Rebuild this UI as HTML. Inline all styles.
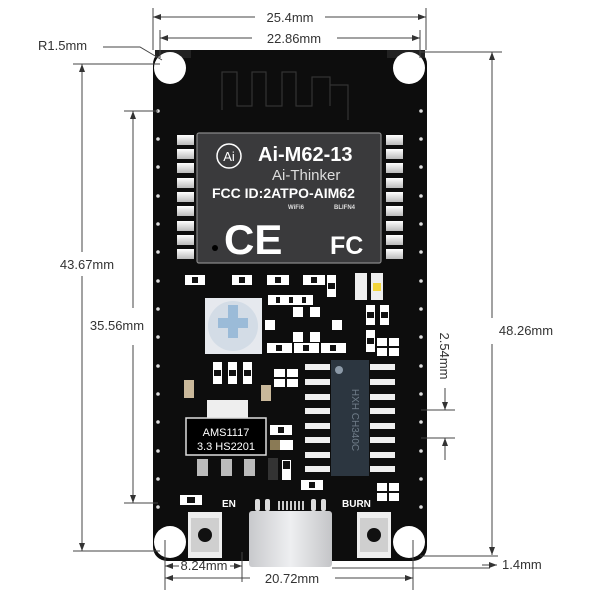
<!DOCTYPE html>
<html><head><meta charset="utf-8"><style>
html,body{margin:0;padding:0;background:#fff;}
svg{display:block;}
text{font-family:"Liberation Sans",sans-serif;}
</style></head><body>
<svg width="600" height="600" viewBox="0 0 600 600" xmlns="http://www.w3.org/2000/svg">
<defs>
<marker id="a" markerWidth="8" markerHeight="6" refX="8" refY="3" orient="auto-start-reverse"><path d="M0,0 L8,3 L0,6 z" fill="#333"/></marker>
<linearGradient id="usb" x1="0" x2="1"><stop offset="0" stop-color="#c8c9cc"/><stop offset="0.5" stop-color="#eeeff1"/><stop offset="1" stop-color="#c4c5c8"/></linearGradient>
<linearGradient id="pad" x1="0" y1="0" x2="0" y2="1"><stop offset="0" stop-color="#fff"/><stop offset="1" stop-color="#bbb"/></linearGradient>
</defs>

<rect x="153" y="50" width="274" height="511" rx="14" fill="#0d0d0d"/>
<rect x="155" y="50" width="36" height="8" fill="#222"/>
<rect x="387" y="50" width="38" height="8" fill="#222"/>

<circle cx="170" cy="68" r="16" fill="#fff"/>
<circle cx="409" cy="68" r="16" fill="#fff"/>
<circle cx="170" cy="542" r="16" fill="#fff"/>
<circle cx="409" cy="542" r="16" fill="#fff"/>

<g fill="#ddd">
<circle cx="158" cy="111" r="1.8"/><circle cx="158" cy="139" r="1.8"/><circle cx="158" cy="167" r="1.8"/><circle cx="158" cy="196" r="1.8"/><circle cx="158" cy="224" r="1.8"/><circle cx="158" cy="252" r="1.8"/><circle cx="158" cy="281" r="1.8"/><circle cx="158" cy="309" r="1.8"/><circle cx="158" cy="337" r="1.8"/><circle cx="158" cy="366" r="1.8"/><circle cx="158" cy="394" r="1.8"/><circle cx="158" cy="422" r="1.8"/><circle cx="158" cy="451" r="1.8"/><circle cx="158" cy="479" r="1.8"/><circle cx="158" cy="507" r="1.8"/>
<circle cx="421" cy="111" r="1.8"/><circle cx="421" cy="139" r="1.8"/><circle cx="421" cy="167" r="1.8"/><circle cx="421" cy="196" r="1.8"/><circle cx="421" cy="224" r="1.8"/><circle cx="421" cy="252" r="1.8"/><circle cx="421" cy="281" r="1.8"/><circle cx="421" cy="309" r="1.8"/><circle cx="421" cy="337" r="1.8"/><circle cx="421" cy="366" r="1.8"/><circle cx="421" cy="394" r="1.8"/><circle cx="421" cy="422" r="1.8"/><circle cx="421" cy="451" r="1.8"/><circle cx="421" cy="479" r="1.8"/><circle cx="421" cy="507" r="1.8"/>
</g>

<path d="M222,110 V72 H237 V106 H252 V72 H266 V106 H282 V72 H296 V106 H312 V77 H330 V106 M330,85 H348 V120" fill="none" stroke="#333" stroke-width="1.2"/>

<g fill="url(#pad)">
<rect x="177" y="135" width="17" height="10"/><rect x="177" y="163" width="17" height="10"/><rect x="177" y="178" width="17" height="10"/><rect x="177" y="192" width="17" height="10"/><rect x="177" y="206" width="17" height="10"/><rect x="177" y="221" width="17" height="10"/><rect x="177" y="235" width="17" height="10"/><rect x="177" y="249" width="17" height="10"/><rect x="177" y="149" width="17" height="10"/>
<rect x="386" y="135" width="17" height="10"/><rect x="386" y="149" width="17" height="10"/><rect x="386" y="163" width="17" height="10"/><rect x="386" y="178" width="17" height="10"/><rect x="386" y="192" width="17" height="10"/><rect x="386" y="206" width="17" height="10"/><rect x="386" y="221" width="17" height="10"/><rect x="386" y="235" width="17" height="10"/><rect x="386" y="249" width="17" height="10"/>
</g>
<rect x="197" y="133" width="184" height="130" rx="2" fill="#3a3a3c" stroke="#888" stroke-width="1.2"/>
<circle cx="229" cy="156" r="12" fill="none" stroke="#fff" stroke-width="1.5"/>
<text x="229" y="161" font-size="13" fill="#fff" text-anchor="middle" font-family="Liberation Serif,serif">Ai</text>
<text x="258" y="161" font-size="20" font-weight="bold" fill="#fff">Ai-M62-13</text>
<text x="272" y="180" font-size="15" fill="#ddd">Ai-Thinker</text>
<text x="212" y="198" font-size="14" font-weight="bold" fill="#fff">FCC ID:2ATPO-AIM62</text>
<text x="288" y="209" font-size="6" font-weight="bold" fill="#ddd">WiFi6</text>
<text x="334" y="209" font-size="6" font-weight="bold" fill="#ddd">BLIFN4</text>
<text x="224" y="254" font-size="42" font-weight="bold" fill="#fff">CE</text>
<text x="330" y="254" font-size="25" font-weight="bold" fill="#fff">FC</text>
<circle cx="215" cy="248" r="3" fill="#000"/>

<g fill="#fff">
<rect x="185" y="275" width="20" height="10"/><rect x="232" y="275" width="20" height="10"/><rect x="267" y="275" width="22" height="10"/><rect x="303" y="275" width="22" height="10"/><rect x="327" y="275" width="9" height="22"/>
<rect x="268" y="295" width="45" height="10"/>
<rect x="265" y="320" width="10" height="10"/><rect x="293" y="307" width="10" height="10"/><rect x="310" y="307" width="10" height="10"/><rect x="332" y="320" width="10" height="10"/><rect x="293" y="332" width="10" height="10"/><rect x="310" y="332" width="10" height="10"/>
<rect x="267" y="343" width="25" height="10"/><rect x="294" y="343" width="25" height="10"/><rect x="321" y="343" width="25" height="10"/>
<rect x="366" y="305" width="9" height="20"/><rect x="380" y="305" width="9" height="20"/><rect x="366" y="330" width="9" height="22"/><rect x="377" y="338" width="22" height="18"/>
<rect x="213" y="362" width="9" height="22"/><rect x="228" y="362" width="9" height="22"/><rect x="243" y="362" width="9" height="22"/>
<rect x="274" y="369" width="24" height="18"/>
<rect x="270" y="425" width="22" height="10"/><rect x="273" y="440" width="20" height="10"/>
<rect x="282" y="460" width="9" height="20"/>
<rect x="301" y="480" width="22" height="10"/>
<rect x="377" y="483" width="22" height="18"/>
<rect x="180" y="495" width="22" height="10"/>
</g>
<g fill="#111">
<rect x="192" y="277" width="6" height="6"/><rect x="239" y="277" width="6" height="6"/><rect x="275" y="277" width="6" height="6"/><rect x="311" y="277" width="6" height="6"/><rect x="328" y="283" width="7" height="6"/>
<rect x="276" y="297" width="4" height="6"/><rect x="289" y="297" width="4" height="6"/><rect x="302" y="297" width="4" height="6"/>
<rect x="276" y="345" width="6" height="6"/><rect x="303" y="345" width="6" height="6"/><rect x="330" y="345" width="6" height="6"/>
<rect x="367" y="312" width="7" height="6"/><rect x="381" y="312" width="7" height="6"/><rect x="367" y="338" width="7" height="6"/><rect x="377" y="346" width="22" height="2"/><rect x="387" y="338" width="2" height="18"/>
<rect x="214" y="370" width="7" height="6"/><rect x="229" y="370" width="7" height="6"/><rect x="244" y="370" width="7" height="6"/>
<rect x="274" y="377" width="24" height="2"/><rect x="285" y="369" width="2" height="18"/>
<rect x="278" y="427" width="6" height="6"/><rect x="283" y="461" width="7" height="8"/>
<rect x="309" y="482" width="6" height="6"/><rect x="377" y="491" width="22" height="2"/><rect x="387" y="483" width="2" height="18"/><rect x="187" y="497" width="8" height="6"/>
</g>
<rect x="355" y="273" width="12" height="27" fill="#eee"/>
<rect x="371" y="273" width="12" height="27" fill="#eee"/>
<rect x="373" y="283" width="8" height="8" fill="#f2d43a"/>
<rect x="184" y="380" width="10" height="18" fill="#c9b89a"/>
<rect x="261" y="385" width="10" height="16" fill="#c9b89a"/>
<rect x="270" y="440" width="10" height="10" fill="#8a7a55"/>
<rect x="268" y="458" width="10" height="22" fill="#333"/>

<rect x="205" y="298" width="57" height="56" fill="#e6e9ee"/>
<circle cx="233" cy="326" r="25" fill="#d3dce6"/>
<path d="M228,305 h10 v13 h10 v10 h-10 v10 h-10 v-10 h-10 v-10 h10z" fill="#9bbbd8"/>

<rect x="207" y="400" width="41" height="20" fill="#eee"/>
<rect x="186" y="418" width="80" height="37" fill="#000" stroke="#ddd" stroke-width="1.5"/>
<text x="226" y="436" font-size="11" fill="#fff" text-anchor="middle" font-family="Liberation Serif,serif">AMS1117</text>
<text x="226" y="450" font-size="11" fill="#fff" text-anchor="middle" font-family="Liberation Serif,serif">3.3  HS2201</text>
<rect x="197" y="459" width="11" height="17" fill="#bbb"/><rect x="221" y="459" width="11" height="17" fill="#bbb"/><rect x="244" y="459" width="11" height="17" fill="#bbb"/>

<g fill="#eee">
<rect x="305" y="364" width="25" height="6"/><rect x="305" y="379" width="25" height="6"/><rect x="305" y="394" width="25" height="6"/><rect x="305" y="408" width="25" height="6"/><rect x="305" y="423" width="25" height="6"/><rect x="305" y="437" width="25" height="6"/><rect x="305" y="452" width="25" height="6"/><rect x="305" y="466" width="25" height="6"/>
<rect x="370" y="364" width="25" height="6"/><rect x="370" y="379" width="25" height="6"/><rect x="370" y="394" width="25" height="6"/><rect x="370" y="408" width="25" height="6"/><rect x="370" y="423" width="25" height="6"/><rect x="370" y="437" width="25" height="6"/><rect x="370" y="452" width="25" height="6"/><rect x="370" y="466" width="25" height="6"/>
</g>
<rect x="331" y="360" width="38" height="116" fill="#2c3640"/>
<circle cx="339" cy="370" r="4" fill="#8c9aa8"/>
<text x="352" y="420" font-size="10" fill="#6f7c88" transform="rotate(90 352 420)" text-anchor="middle">HXH CH340C</text>

<rect x="188" y="512" width="34" height="46" fill="#eee"/>
<rect x="191" y="518" width="28" height="34" fill="#cfcfcf"/>
<circle cx="205" cy="535" r="7" fill="#111"/>
<rect x="357" y="512" width="34" height="46" fill="#eee"/>
<rect x="360" y="518" width="28" height="34" fill="#cfcfcf"/>
<circle cx="374" cy="535" r="7" fill="#111"/>
<text x="222" y="507" font-size="10" font-weight="bold" fill="#fff">EN</text>
<text x="342" y="507" font-size="10" font-weight="bold" fill="#fff">BURN</text>

<rect x="255" y="499" width="5" height="12" rx="2" fill="#ddd"/><rect x="265" y="499" width="5" height="12" rx="2" fill="#ddd"/>
<rect x="311" y="499" width="5" height="12" rx="2" fill="#ddd"/><rect x="321" y="499" width="5" height="12" rx="2" fill="#ddd"/>
<g fill="#ccc"><rect x="278" y="501" width="2" height="9"/><rect x="282" y="501" width="2" height="9"/><rect x="286" y="501" width="2" height="9"/><rect x="290" y="501" width="2" height="9"/><rect x="294" y="501" width="2" height="9"/><rect x="298" y="501" width="2" height="9"/><rect x="302" y="501" width="2" height="9"/></g>
<rect x="249" y="511" width="83" height="56" rx="3" fill="url(#usb)"/>

<g stroke="#444" stroke-width="1" fill="none">
<line x1="153" y1="8" x2="153" y2="50"/><line x1="426" y1="8" x2="426" y2="50"/>
<line x1="160" y1="30" x2="160" y2="58"/><line x1="420" y1="30" x2="420" y2="58"/>
<line x1="153" y1="17" x2="255" y2="17" marker-start="url(#a)"/><line x1="325" y1="17" x2="426" y2="17" marker-end="url(#a)"/>
<line x1="160" y1="38" x2="252" y2="38" marker-start="url(#a)"/><line x1="337" y1="38" x2="420" y2="38" marker-end="url(#a)"/>
<path d="M103,47 H140 L162,60"/>
<line x1="420" y1="52" x2="502" y2="52"/>
<line x1="73" y1="64" x2="160" y2="64"/><line x1="73" y1="551" x2="160" y2="551"/>
<line x1="82" y1="64" x2="82" y2="252" marker-start="url(#a)"/><line x1="82" y1="276" x2="82" y2="551" marker-end="url(#a)"/>
<line x1="124" y1="111" x2="158" y2="111"/><line x1="124" y1="503" x2="158" y2="503"/>
<line x1="133" y1="111" x2="133" y2="308" marker-start="url(#a)"/><line x1="133" y1="345" x2="133" y2="503" marker-end="url(#a)"/>
<line x1="492" y1="52" x2="492" y2="318" marker-start="url(#a)"/><line x1="492" y1="344" x2="492" y2="555" marker-end="url(#a)"/>
<line x1="420" y1="556" x2="498" y2="556"/><line x1="332" y1="568" x2="490" y2="568"/>
<line x1="421" y1="410" x2="455" y2="410"/><line x1="421" y1="438" x2="455" y2="438"/>
<line x1="445" y1="388" x2="445" y2="410" marker-end="url(#a)"/><line x1="445" y1="460" x2="445" y2="438" marker-end="url(#a)"/>
<line x1="165" y1="540" x2="165" y2="590"/><line x1="413" y1="540" x2="413" y2="590"/><line x1="242" y1="552" x2="242" y2="582"/>
<line x1="165" y1="566" x2="179" y2="566" marker-start="url(#a)"/><line x1="230" y1="566" x2="242" y2="566" marker-end="url(#a)"/>
<line x1="165" y1="578" x2="250" y2="578" marker-start="url(#a)"/><line x1="335" y1="578" x2="413" y2="578" marker-end="url(#a)"/>
<line x1="482" y1="565" x2="497" y2="565" marker-end="url(#a)"/>
</g>
<g font-size="13" fill="#333">
<text x="290" y="22" text-anchor="middle">25.4mm</text>
<text x="294" y="43" text-anchor="middle">22.86mm</text>
<text x="38" y="50">R1.5mm</text>
<text x="87" y="269" text-anchor="middle">43.67mm</text>
<text x="117" y="330" text-anchor="middle">35.56mm</text>
<text x="526" y="335" text-anchor="middle">48.26mm</text>
<text x="440" y="356" text-anchor="middle" transform="rotate(90 440 356)">2.54mm</text>
<text x="502" y="569">1.4mm</text>
<text x="204" y="570" text-anchor="middle">8.24mm</text>
<text x="292" y="583" text-anchor="middle">20.72mm</text>
</g>
</svg>
</body></html>
